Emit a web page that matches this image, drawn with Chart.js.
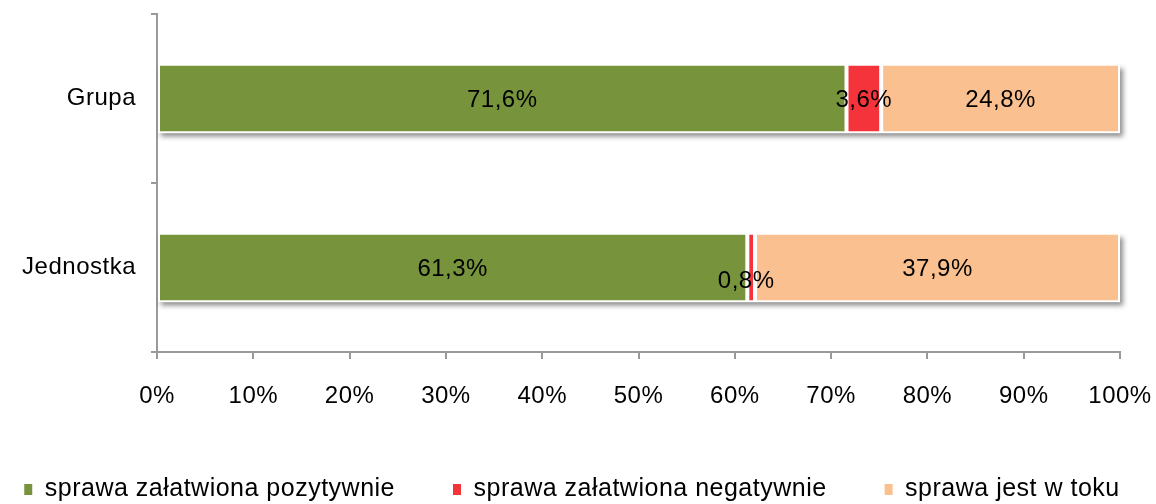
<!DOCTYPE html>
<html>
<head>
<meta charset="utf-8">
<script src="https://cdn.jsdelivr.net/npm/chart.js@4/dist/chart.umd.min.js"></script>
<style>
    html, body { margin: 0; padding: 0; background: #fff; }
    #wrap { width: 1156px; height: 504px; }
</style>
</head>
<body>
<div id="wrap"><canvas id="statusChart"></canvas></div>
<script>
    const categories = ['Grupa', 'Jednostka'];
    const seriesNames = ['sprawa załatwiona pozytywnie', 'sprawa załatwiona negatywnie', 'sprawa jest w toku'];
    const positive = [71.6, 61.3];
    const negative = [3.6, 0.8];
    const inProgress = [24.8, 37.9];
    const xTicks = [0, 10, 20, 30, 40, 50, 60, 70, 80, 90, 100];

    const colors = ['#77933C', '#F5333A', '#FAC090'];
    const axisColor = '#9A9A9A';
    const fontFamily = '"Liberation Sans", Arial, sans-serif';

    const fmt = v => v.toFixed(1).replace('.', ',') + '%';

    // canvas state is reset on resize, so set spacing before measuring and drawing
    const spacingPlugin = {
        id: 'spacing',
        beforeUpdate(chart) { chart.ctx.letterSpacing = '0.5px'; },
        beforeDraw(chart) { chart.ctx.letterSpacing = '0.5px'; }
    };

    const shadowPlugin = {
        id: 'barShadow',
        beforeDatasetsDraw(chart) {
            const ctx = chart.ctx;
            const first = chart.getDatasetMeta(0).data;
            const last = chart.getDatasetMeta(chart.data.datasets.length - 1).data;
            first.forEach((el, i) => {
                const a = el.getProps(['base', 'y', 'height'], true);
                const b = last[i].getProps(['x'], true);
                ctx.save();
                ctx.shadowColor = 'rgba(0,0,0,0.45)';
                ctx.shadowBlur = 5;
                ctx.shadowOffsetX = 3;
                ctx.shadowOffsetY = 4;
                ctx.fillStyle = '#fff';
                ctx.fillRect(a.base, a.y - a.height / 2, b.x - a.base, a.height);
                ctx.restore();
            });
        }
    };

    const labelPlugin = {
        id: 'segmentLabels',
        afterDatasetsDraw(chart) {
            const ctx = chart.ctx;
            ctx.save();
            ctx.font = '24px ' + fontFamily;
            ctx.fillStyle = '#000';
            ctx.textAlign = 'center';
            ctx.textBaseline = 'middle';
            chart.data.datasets.forEach((ds, di) => {
                chart.getDatasetMeta(di).data.forEach((el, i) => {
                    const p = el.getProps(['x', 'y', 'base'], true);
                    const w = Math.abs(p.x - p.base);
                    let cx = (p.x + p.base) / 2;
                    let cy = p.y + 2;
                    if (w < 15) {
                        cx -= 5;
                        cy += 12;
                    }
                    ctx.fillText(fmt(ds.data[i]), cx, cy);
                });
            });
            ctx.restore();
        }
    };

    new Chart(document.getElementById('statusChart'), {
        type: 'bar',
        data: {
            labels: categories,
            datasets: [
                { label: seriesNames[0], data: positive, backgroundColor: colors[0] },
                { label: seriesNames[1], data: negative, backgroundColor: colors[1] },
                { label: seriesNames[2], data: inProgress, backgroundColor: colors[2] }
            ].map(ds => Object.assign(ds, {
                borderColor: '#fff',
                borderWidth: 2,
                borderSkipped: false,
                categoryPercentage: 1,
                barPercentage: 0.41
            }))
        },
        options: {
            indexAxis: 'y',
            responsive: true,
            maintainAspectRatio: false,
            animation: false,
            // negative side padding gives the wide legend room for one row
            layout: { padding: { top: 14, bottom: -8, left: -42, right: -30 } },
            scales: {
                x: {
                    stacked: true,
                    min: 0,
                    max: 100,
                    afterBuildTicks: scale => {
                        scale.ticks = xTicks.map(v => ({ value: v }));
                    },
                    afterFit: scale => {
                        scale.height = 67;
                        scale.paddingLeft = 0;
                        scale.paddingRight = 36;
                    },
                    border: { color: axisColor, width: 2 },
                    grid: {
                        drawOnChartArea: false,
                        drawTicks: true,
                        tickLength: 7,
                        color: axisColor,
                        lineWidth: 2
                    },
                    ticks: {
                        padding: 23,
                        color: '#000',
                        font: { family: fontFamily, size: 24 },
                        callback: v => v + '%'
                    }
                },
                y: {
                    stacked: true,
                    afterFit: scale => {
                        scale.width = 199;
                        scale.paddingTop = 0;
                        scale.paddingBottom = 0;
                    },
                    border: { color: axisColor, width: 2 },
                    grid: {
                        offset: true,
                        drawOnChartArea: false,
                        drawTicks: true,
                        tickLength: 6,
                        color: axisColor,
                        lineWidth: 2
                    },
                    ticks: {
                        padding: 15,
                        color: '#000',
                        font: { family: fontFamily, size: 24 }
                    }
                }
            },
            plugins: {
                tooltip: { enabled: false },
                legend: {
                    position: 'bottom',
                    labels: {
                        boxWidth: 8,
                        boxHeight: 11,
                        padding: 58,
                        color: '#000',
                        font: { family: fontFamily, size: 25 },
                        generateLabels: chart => Chart.defaults.plugins.legend.labels.generateLabels(chart)
                            .map(item => Object.assign(item, { lineWidth: 0, strokeStyle: 'rgba(0,0,0,0)' }))
                    }
                }
            }
        },
        plugins: [spacingPlugin, shadowPlugin, labelPlugin]
    });
</script>
</body>
</html>
